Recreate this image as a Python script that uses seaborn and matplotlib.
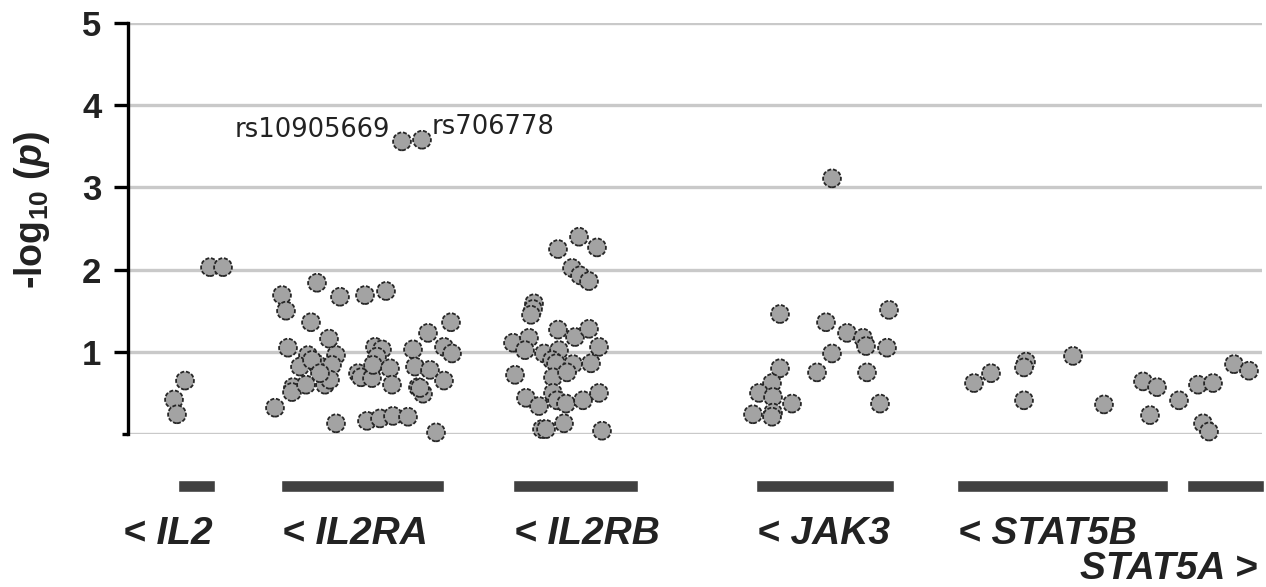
import matplotlib
matplotlib.use("Agg")
import matplotlib.pyplot as plt
import numpy as np
import pandas as pd
import seaborn as sns

# SNP positions along the locus (kb from window start) and -log10(p) per gene region
il2_pos = [46, 49, 57, 82, 95]
il2_logp = [0.42, 0.24, 0.65, 2.03, 2.03]

il2ra_pos = [154, 158, 189, 212, 237, 258, 183, 201, 323, 300, 160, 180, 208, 172,
             189, 204, 184, 165, 164, 178, 197, 202, 192, 147, 208, 230, 233, 244,
             247, 254, 249, 245, 262, 264, 285, 287, 302, 316, 324, 316, 290, 295,
             292, 239, 252, 265, 280, 308, 274, 294]
il2ra_logp = [1.69, 1.50, 1.84, 1.67, 1.69, 1.74, 1.36, 1.16, 1.36, 1.23, 1.05, 0.96,
              0.96, 0.82, 0.85, 0.84, 0.90, 0.57, 0.51, 0.60, 0.60, 0.66, 0.74, 0.32,
              0.13, 0.74, 0.69, 0.68, 1.06, 1.03, 0.94, 0.84, 0.80, 0.60, 1.03, 0.82,
              0.78, 1.06, 0.98, 0.65, 0.57, 0.49, 0.56, 0.16, 0.19, 0.22, 0.21, 0.02,
              3.56, 3.58]

il2rb_pos = [451, 430, 469, 444, 452, 461, 406, 405, 403, 430, 447, 461, 385, 401,
             397, 416, 431, 424, 428, 445, 463, 471, 387, 425, 439, 425, 398, 411,
             429, 438, 455, 471, 436, 414, 418, 474]
il2rb_logp = [2.40, 2.25, 2.27, 2.02, 1.93, 1.86, 1.59, 1.52, 1.45, 1.27, 1.18, 1.28,
              1.11, 1.17, 1.02, 0.98, 1.02, 0.90, 0.86, 0.85, 0.86, 1.06, 0.72, 0.69,
              0.75, 0.50, 0.44, 0.34, 0.41, 0.37, 0.41, 0.50, 0.13, 0.06, 0.06, 0.04]

jak3_pos = [704, 652, 698, 761, 719, 735, 738, 759, 704, 652, 689, 739, 644, 631,
            645, 664, 752, 625, 645, 644]
jak3_logp = [3.11, 1.46, 1.36, 1.51, 1.23, 1.17, 1.07, 1.05, 0.98, 0.80, 0.75, 0.75,
             0.62, 0.50, 0.45, 0.37, 0.37, 0.24, 0.26, 0.21]

stat5_pos = [846, 863, 898, 896, 896, 945, 976, 1015, 1029, 1022, 1051, 1070, 1085,
             1075, 1081, 1106, 1121]
stat5_logp = [0.62, 0.74, 0.88, 0.81, 0.41, 0.95, 0.36, 0.64, 0.57, 0.23, 0.41, 0.60,
              0.62, 0.13, 0.03, 0.85, 0.77]

# Gene extents (kb) and their labels; all but STAT5A lie on the reverse strand
gene_names = ["IL2", "IL2RA", "IL2RB", "JAK3", "STAT5B", "STAT5A"]
gene_start = [50, 153, 385, 628, 829, 1059]
gene_end = [87, 316, 510, 766, 1040, 1136]
gene_reverse = [True, True, True, True, True, False]

# Labelled top SNPs
top_snps = ["rs10905669", "rs706778"]
top_pos = [274, 294]
top_logp = [3.56, 3.58]

df = pd.DataFrame({
    "pos": il2_pos + il2ra_pos + il2rb_pos + jak3_pos + stat5_pos,
    "logp": il2_logp + il2ra_logp + il2rb_logp + jak3_logp + stat5_logp,
})

sns.set_theme(style="white")
plt.rcParams["font.family"] = ["Liberation Sans", "DejaVu Sans"]
plt.rcParams["mathtext.fontset"] = "custom"
plt.rcParams["mathtext.rm"] = "Liberation Sans:bold"
plt.rcParams["mathtext.bf"] = "Liberation Sans:bold"
plt.rcParams["mathtext.it"] = "Liberation Sans:bold:italic"

fig = plt.figure(figsize=(12.66, 5.87), dpi=100)
ax = fig.add_axes([128 / 1266, 1 - 434 / 587, 1134 / 1266, 411 / 587])

ink = "#222222"

sns.scatterplot(data=df, x="pos", y="logp", ax=ax, s=165, color="#a3a3a3",
                edgecolor="#262626", linewidth=1.3, linestyle=(0, (2.2, 1.0)),
                zorder=3, clip_on=False)

ax.set_xlim(0, 1134)
ax.set_ylim(0, 5)
ax.set_xticks([])
ax.set_xlabel("")
ax.set_yticks([1, 2, 3, 4, 5])
ax.set_yticks([0], minor=True)
ax.yaxis.grid(True, which="both", color="#c9c9c9", linewidth=2.4)
ax.set_axisbelow(True)
for side in ("top", "right", "bottom"):
    ax.spines[side].set_visible(False)
ax.spines["left"].set_color("black")
ax.spines["left"].set_linewidth(2.4)
ax.tick_params(axis="y", which="major", direction="out", length=10, width=2.4,
               color="black", pad=9, labelsize=25, labelcolor=ink, left=True)
ax.tick_params(axis="y", which="minor", direction="out", length=4, width=2.4,
               color="black", left=True)
for lab in ax.get_yticklabels():
    lab.set_fontweight("bold")

ax.set_ylabel(r"-log$_{10}$ ($\mathit{p}$)", fontsize=27, fontweight="bold",
              color=ink, va="center")
ax.yaxis.set_label_coords(-0.085, 0.545)

# Top SNP labels
snp_font = dict(fontsize=18.5, color=ink, family=["DejaVu Sans"], va="baseline")
ax.text(top_pos[0] - 12, top_logp[0] + 0.05, top_snps[0], ha="right", **snp_font)
ax.text(top_pos[1] + 10, top_logp[1] + 0.07, top_snps[1], ha="left", **snp_font)

# Gene track below the axis
bar_y, bar_h = -0.70, 0.135
ax.broken_barh([(s, e - s) for s, e in zip(gene_start, gene_end)], (bar_y, bar_h),
               facecolors="#404040", clip_on=False)
gene_font = dict(fontsize=28, fontweight="bold", fontstyle="italic", color=ink,
                 va="baseline", clip_on=False)
for name, s, e, rev in zip(gene_names, gene_start, gene_end, gene_reverse):
    if rev:
        text = f"< {name}"
        if name == "IL2":
            ax.text(e - 2, -1.34, text, ha="right", **gene_font)
        else:
            ax.text(s + 1, -1.34, text, ha="left", **gene_font)
    else:
        ax.text(e - 7, -1.77, f"{name} >", ha="right", **gene_font)

fig.savefig("out.png", dpi=100, facecolor="white")
